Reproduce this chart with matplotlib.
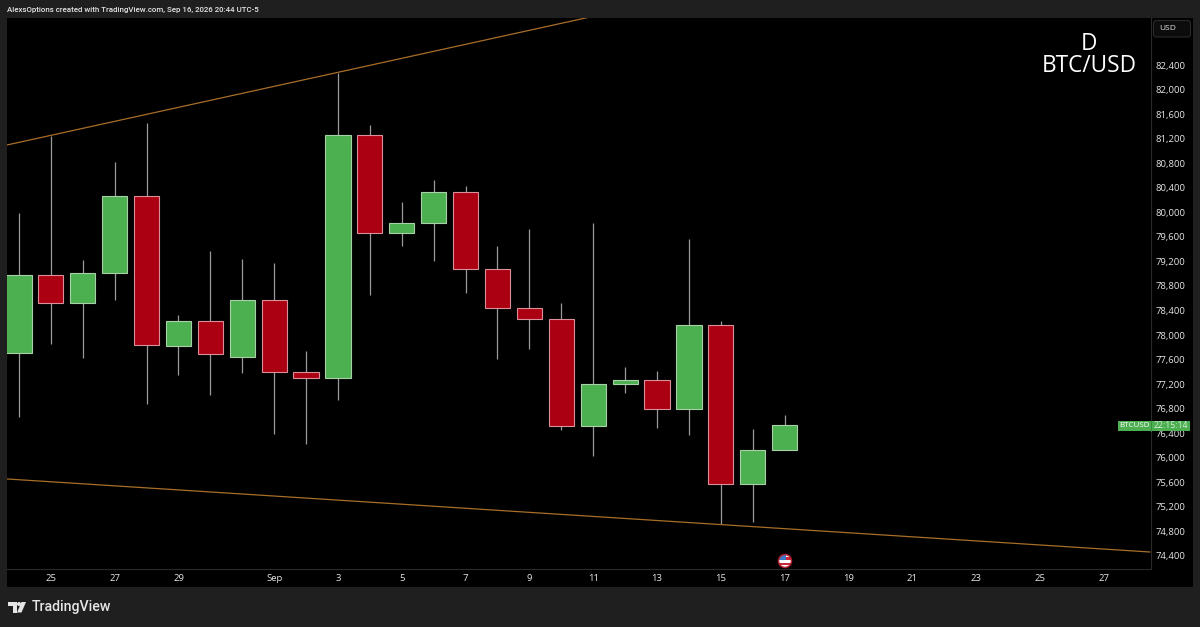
"""
BTC/USD daily candles with a falling wedge, TradingView dark layout.
"""

import matplotlib
matplotlib.use('Agg')
import matplotlib.pyplot as plt
from matplotlib.patches import Rectangle, Circle, Polygon, FancyBboxPatch

plt.rcParams['font.family'] = ['Open Sans', 'DejaVu Sans']

# daily candles, Aug 24 to Sep 17
opens = [77712, 78974, 78522, 79011, 80270, 77827, 78224, 77647, 78566, 77393,
    77295, 81255, 79658, 79821, 80326, 79076, 78436, 78267, 76523, 77203,
    77268, 76795, 78169, 75573, 76127]
highs = [79984, 81243, 79223, 80820, 81450, 78327, 79374, 79239, 79174, 77735,
    82275, 81418, 80173, 80526, 80424, 79451, 79733, 78517, 79821, 77475,
    77409, 79570, 78229, 76469, 76697]
lows = [76670, 77849, 77626, 78571, 76877, 77349, 77018, 77377, 76383, 76230,
    76947, 78648, 79456, 79211, 78680, 77605, 77768, 76458, 76034, 77061,
    76481, 76372, 74917, 74959, 76127]
closes = [78983, 78522, 79016, 80270, 77833, 78224, 77691, 78566, 77393, 77295,
    81255, 79658, 79821, 80326, 79076, 78436, 78267, 76523, 77203, 77268,
    76795, 78169, 75573, 76127, 76534]

# wedge lines (bar index, price)
upper_x = [-0.376, 17.9]
upper_y = [81097, 83182]
lower_x = [-0.376, 35.45]
lower_y = [75655, 74465]

# axis ticks
date_pos = [1, 3, 5, 8, 10, 12, 14, 16, 18, 20, 22, 24, 26, 28, 30, 32, 34]
date_labels = ['25', '27', '29', 'Sep', '3', '5', '7', '9', '11', '13', '15',
    '17', '19', '21', '23', '25', '27']
price_ticks = list(range(74400, 82800, 400))

bg = '#1f1f1f'
sep = '#2a2a2a'
green = '#4caf50'
red = '#ab0012'
orange = '#a86e28'
txt = '#e6e6e6'

W, H = 1200, 627
fig = plt.figure(figsize=(12, 6.27), dpi=100, facecolor=bg)

# overlay in pixel coordinates for the page furniture
cx = fig.add_axes([0, 0, 1, 1], zorder=0)
cx.set_xlim(0, W)
cx.set_ylim(H, 0)
cx.axis('off')
cx.add_patch(Rectangle((7, 18), 1186, 569, fc='k', ec='none'))

ax = fig.add_axes([7/W, 1 - 569/H, (1150.5 - 7)/W, (569 - 18)/H], zorder=1)
ax.set_facecolor('k')
for s in ['top', 'left']:
    ax.spines[s].set_visible(False)
for s in ['right', 'bottom']:
    ax.spines[s].set_color(sep)
    ax.spines[s].set_linewidth(0.8)

# candles
for ii in range(len(opens)):
    o, h, l, c = opens[ii], highs[ii], lows[ii], closes[ii]
    up = c >= o
    ax.plot([ii, ii], [l, h], color='#9a9a9a', lw=0.9, solid_capstyle='butt', zorder=2)
    ax.bar(ii, abs(c - o), bottom=min(o, c), width=0.79,
        color=green if up else red, edgecolor='#a8d0a9' if up else '#d8909a',
        linewidth=0.8, zorder=3)

ax.plot(upper_x, upper_y, color=orange, lw=0.9, zorder=4)
ax.plot(lower_x, lower_y, color=orange, lw=0.9, zorder=4)

ax.set_xlim(-0.376, 35.47)
ax.set_ylim(74188, 83166)
ax.yaxis.tick_right()
ax.set_yticks(price_ticks)
ax.set_yticklabels(['{:,}'.format(p) for p in price_ticks])
ax.set_xticks(date_pos)
ax.set_xticklabels(date_labels)
ax.tick_params(axis='y', length=0, pad=3.6, labelsize=6.8, labelcolor=txt)
ax.tick_params(axis='x', length=0, pad=3.4, labelsize=6.8, labelcolor=txt)

# chart title, top right
ax.text(1088.5, 44, 'D', transform=cx.transData, color='w', fontsize=16.3,
    ha='center', va='center', family='Open Sans')
ax.text(1089, 66.5, 'BTC/USD', transform=cx.transData, color='w', fontsize=16.3,
    ha='center', va='center', family='Open Sans')

# overlay drawn above the axes for tags and logo
top = fig.add_axes([0, 0, 1, 1], zorder=2)
top.set_xlim(0, W)
top.set_ylim(H, 0)
top.axis('off')
top.patch.set_alpha(0)

top.text(7, 9.5, 'AlexsOptions created with TradingView.com, Sep 16, 2026 20:44 UTC-5',
    color=txt, fontsize=5.65, ha='left', va='center', family='Roboto', fontweight='medium')

# currency box
top.add_patch(FancyBboxPatch((1153.5, 20.5), 37, 16.5, boxstyle='round,pad=0,rounding_size=3',
    fc='#0c0c0c', ec=sep, lw=0.8))
top.text(1159, 29, 'USD', color=txt, fontsize=6, ha='left', va='center')

# last price tag
top.add_patch(Rectangle((1117.5, 420.5), 33, 10.5, fc=green, ec='none'))
top.add_patch(Rectangle((1151, 420.5), 39, 10.5, fc=green, ec='none'))
top.plot([1150.7, 1150.7], [420.5, 431], color='#3a8a3e', lw=0.7)
top.text(1134, 425.7, 'BTCUSD', color='w', fontsize=5.8, ha='center', va='center')
top.text(1170.5, 425.7, '22:15:14', color='#d8f0d8', fontsize=6.2, ha='center', va='center')

# economic event marker
clip = Circle((785, 561), 6.5, transform=top.transData)
for y0, col in [(554, 'w'), (557, '#c8283c'), (560, 'w'), (563, '#c8283c'), (565, 'w')]:
    r = top.add_patch(Rectangle((778, y0), 14, 3.2, fc=col, ec='none'))
    r.set_clip_path(clip)
r = top.add_patch(Rectangle((778, 554), 7.5, 6, fc='#3b78c8', ec='none'))
r.set_clip_path(clip)
top.add_patch(Circle((785, 561), 6.5, fc='none', ec='#b0202c', lw=1.1))

# TradingView logo
logo = '#e6e6e6'
top.add_patch(Polygon([(8, 602), (16.5, 602), (16.5, 612.5), (12.5, 612.5), (12.5, 606), (8, 606)],
    fc=logo, ec='none'))
top.add_patch(Circle((19, 604), 2, fc=logo, ec='none'))
top.add_patch(Polygon([(17, 612.5), (21.5, 602), (26, 602), (21.5, 612.5)], fc=logo, ec='none'))
top.text(32, 607, 'TradingView', color=logo, fontsize=10.2, ha='left', va='center',
    family='Roboto', fontweight='medium')

fig.savefig('out.png', dpi=100, facecolor=bg)
